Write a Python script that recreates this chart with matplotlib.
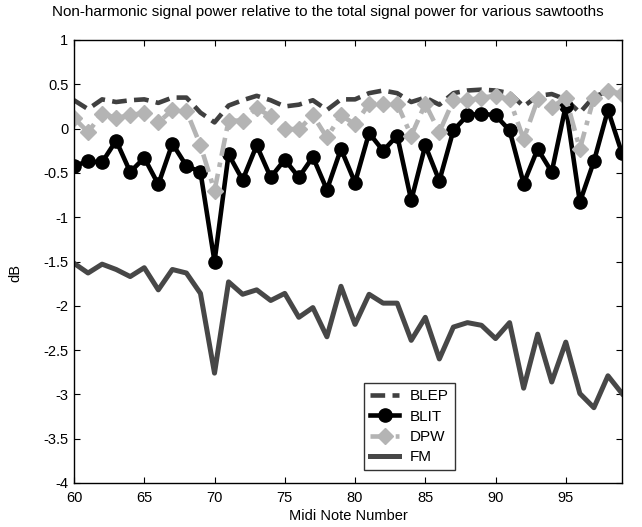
import numpy as np
import matplotlib
matplotlib.use("Agg")
import matplotlib.pyplot as plt
from matplotlib.ticker import FixedLocator, FuncFormatter

plt.rcParams['font.family'] = ['Liberation Sans', 'DejaVu Sans']
plt.rcParams['axes.unicode_minus'] = False

notes = list(range(60, 100))

blep = [0.32, 0.22, 0.33, 0.30, 0.32, 0.33, 0.29, 0.35, 0.35, 0.18,
        0.07, 0.26, 0.32, 0.37, 0.32, 0.25, 0.27, 0.32, 0.21, 0.33,
        0.33, 0.40, 0.43, 0.40, 0.30, 0.35, 0.27, 0.40, 0.43, 0.44,
        0.43, 0.40, 0.25, 0.37, 0.39, 0.33, 0.18, 0.36, 0.42, 0.40]

blit = [-0.42, -0.37, -0.38, -0.135, -0.49, -0.33, -0.63, -0.17, -0.42, -0.49,
        -1.50, -0.29, -0.58, -0.19, -0.55, -0.35, -0.55, -0.32, -0.69, -0.23,
        -0.61, -0.05, -0.25, -0.08, -0.81, -0.19, -0.59, -0.02, 0.15, 0.17,
        0.15, -0.02, -0.62, -0.23, -0.49, 0.26, -0.83, -0.37, 0.21, -0.28]

dpw = [0.12, -0.04, 0.17, 0.12, 0.15, 0.18, 0.07, 0.21, 0.20, -0.19,
       -0.70, 0.09, 0.09, 0.23, 0.14, 0.00, -0.01, 0.15, -0.10, 0.15,
       0.05, 0.28, 0.28, 0.28, -0.08, 0.28, -0.04, 0.32, 0.32, 0.35,
       0.37, 0.33, -0.12, 0.33, 0.24, 0.35, -0.23, 0.35, 0.43, 0.39]

fm = [-1.52, -1.63, -1.53, -1.59, -1.67, -1.57, -1.82, -1.59, -1.63, -1.86,
      -2.76, -1.73, -1.87, -1.82, -1.94, -1.86, -2.13, -2.02, -2.35, -1.78,
      -2.21, -1.87, -1.97, -1.97, -2.39, -2.13, -2.60, -2.24, -2.19, -2.22,
      -2.37, -2.19, -2.93, -2.32, -2.86, -2.41, -2.99, -3.15, -2.79, -2.99]

series_labels = ['BLEP', 'BLIT', 'DPW', 'FM']
x_ticks = [60, 65, 70, 75, 80, 85, 90, 95]
y_ticks = [-4, -3.5, -3, -2.5, -2, -1.5, -1, -0.5, 0, 0.5, 1]

fig = plt.figure(figsize=(6.42, 5.27), dpi=100)
ax = fig.add_axes([74/642, 1-483/527, (622-74)/642, (483-40)/527])

ax.plot(notes, blep, color='#404040', lw=3.3, ls=(0, (3.2, 1.6)), label=series_labels[0])
ax.plot(notes, blit, color='black', lw=3.3, marker='o', ms=9.5, mfc='black', mec='black',
        label=series_labels[1])
ax.plot(notes, dpw, color='#b4b4b4', lw=3.3, ls=(0, (4, 1.5, 1, 1.5)), marker='D', ms=8.5,
        mfc='#b4b4b4', mec='#b4b4b4', label=series_labels[2])
ax.plot(notes, fm, color='#474747', lw=3.6, label=series_labels[3])

ax.set_xlim(60, 99)
ax.set_ylim(-4, 1)
ax.xaxis.set_major_locator(FixedLocator(x_ticks))
ax.yaxis.set_major_locator(FixedLocator(y_ticks))
ax.yaxis.set_major_formatter(FuncFormatter(lambda v, p: ('%g' % v)))
ax.tick_params(direction='in', top=True, right=True, length=4, width=0.8,
               labelsize=10.5, colors='black')
ax.tick_params(axis='x', pad=6)
ax.tick_params(axis='y', pad=4)
for s in ax.spines.values():
    s.set_linewidth(1.0)
    s.set_color('black')

ax.set_xlabel('Midi Note Number', fontsize=10.5, labelpad=3)
fig.text(15/642, 1-273/527, 'dB', rotation=90, ha='center', va='center', fontsize=10.5)
fig.text(328/642, 1-12/527,
         'Non-harmonic signal power relative to the total signal power for various sawtooths',
         ha='center', va='center', fontsize=11)

leg = ax.legend(loc='upper left', bbox_to_anchor=((364-74)/548, (483-383)/443),
                fontsize=11, handlelength=1.9, frameon=True, fancybox=False,
                borderpad=0.4, labelspacing=0.42, handletextpad=0.7, borderaxespad=0)
leg.get_frame().set_edgecolor('black')
leg.get_frame().set_linewidth(1.0)

fig.savefig('out.png', dpi=100)
